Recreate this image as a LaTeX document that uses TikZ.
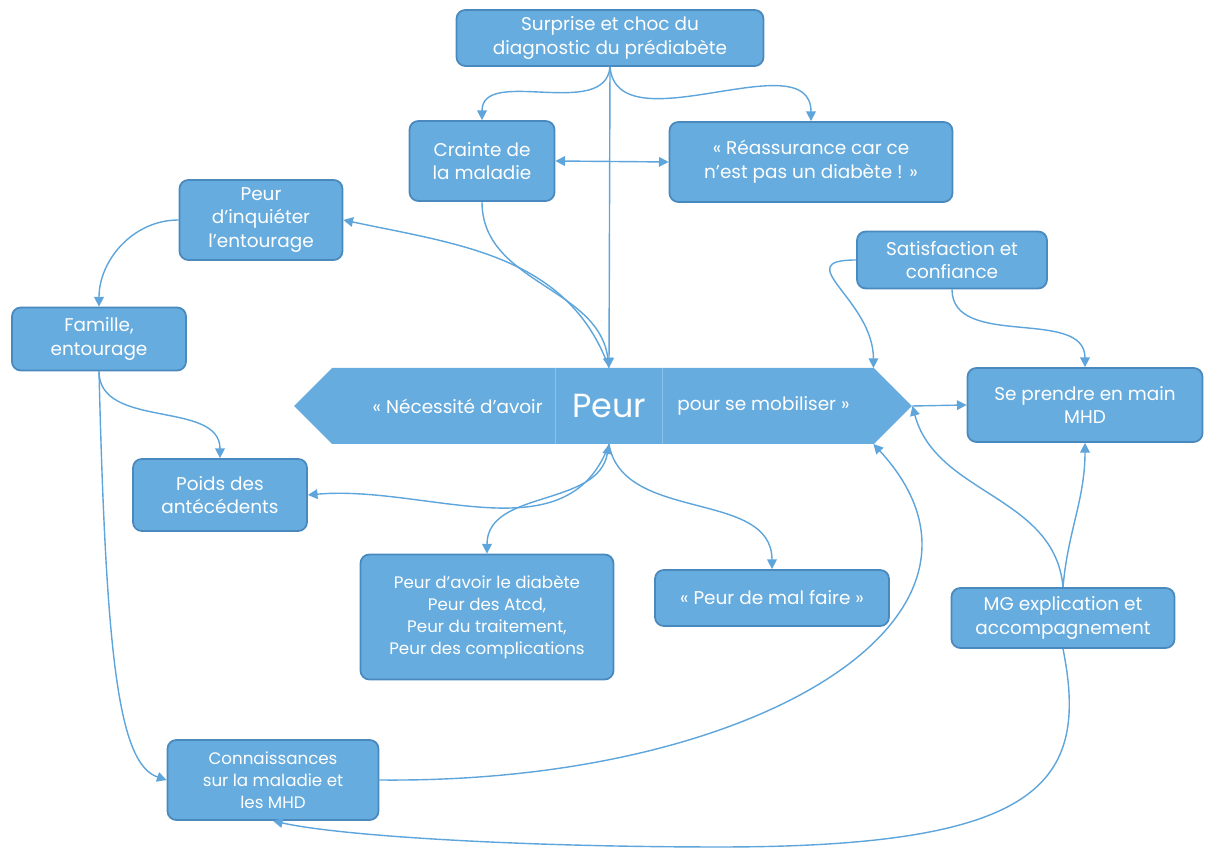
\documentclass[tikz,border=0pt]{standalone}
\usepackage{fontspec}
\setmainfont{Poppins}
\usetikzlibrary{shapes.symbols, arrows.meta, calc}
\definecolor{boxfill}{HTML}{67ACDE}
\definecolor{boxline}{HTML}{4A89BD}
\definecolor{linkcol}{HTML}{5DA5DB}
\definecolor{splitcol}{HTML}{8CC0E6}
\tikzset{
    box/.style={rectangle, rounded corners=5pt, fill=boxfill, draw=boxline, line width=1pt,
                align=center, text=white, inner sep=2pt,
                font=\fontsize{10.5}{13.5}\selectfont},
    narrowbox/.style={box, font=\fontsize{9.5}{12.5}\selectfont},
    banner/.style={signal, signal to=west and east, signal pointer angle=90, fill=boxfill,
                   minimum width=12.36cm, minimum height=1.52cm, inner sep=0pt},
    bantext/.style={text=white, inner sep=0pt, font=\fontsize{10.5}{12}\selectfont},
    split/.style={draw=splitcol, line width=0.6pt},
    link/.style={-{Triangle[length=5.5pt, width=5.5pt]}, line width=0.8pt, draw=linkcol},
    twolink/.style={{Triangle[length=5.5pt, width=5.5pt]}-{Triangle[length=5.5pt, width=5.5pt]},
                    line width=0.8pt, draw=linkcol},
}
\begin{document}
\begin{tikzpicture}[x=0.02cm, y=0.02cm]
  \useasboundingbox (0,0) rectangle (1208,854);

  % central banner
  \node[banner] (banner) at (603,448) {};
  \node[bantext, font=\fontsize{19}{20}\selectfont, minimum width=2.14cm, minimum height=1.52cm] (peur) at (609,448) {Peur};
  \draw[split] (peur.north west) -- (peur.south west);
  \draw[split] (peur.north east) -- (peur.south east);
  \node[bantext, anchor=east] (besoin) at (543,448) {« Nécessité d’avoir};
  \node[bantext, anchor=west] (mobil) at (677,448) {pour se mobiliser »};
  \coordinate (bNE) at ($(banner.east)+(-39,38)$);
  \coordinate (bSE) at ($(banner.east)+(-39,-38)$);

  % boxes
  \node[box, minimum width=6.14cm, minimum height=1.12cm] (choc) at (610,816)
        {Surprise et choc du\\diagnostic du prédiabète};
  \node[box, minimum width=2.9cm, minimum height=1.6cm] (crainte) at (482,693)
        {Crainte de\\la maladie};
  \node[box, minimum width=5.66cm, minimum height=1.6cm] (rassure) at (811,692)
        {« Réassurance car ce\\n’est pas un diabète ! »};
  \node[box, minimum width=3.26cm, minimum height=1.6cm] (inquiet) at (261,634)
        {Peur\\d’inquiéter\\l’entourage};
  \node[box, minimum width=3.48cm, minimum height=1.26cm] (famille) at (99,515)
        {Famille,\\entourage};
  \node[box, minimum width=3.8cm, minimum height=1.14cm] (satisf) at (952,594)
        {Satisfaction et\\confiance};
  \node[box, minimum width=4.7cm, minimum height=1.48cm] (prise) at (1085,449)
        {Se prendre en main\\MHD};
  \node[box, minimum width=3.48cm, minimum height=1.44cm] (poids) at (220,359)
        {Poids des\\antécédents};
  \node[narrowbox, minimum width=5.06cm, minimum height=2.5cm] (peurs) at (487,237)
        {Peur d’avoir le diabète\\Peur des Atcd,\\Peur du traitement,\\Peur des complications};
  \node[box, minimum width=4.68cm, minimum height=1.12cm] (malfaire) at (772,256)
        {« Peur de mal faire »};
  \node[box, minimum width=4.46cm, minimum height=1.2cm] (mg) at (1063,236)
        {MG explication et\\accompagnement};
  \node[narrowbox, minimum width=4.22cm, minimum height=1.6cm] (savoir) at (273,74)
        {Connaissances\\sur la maladie et\\les MHD};

  % links
  \draw[link] (choc.south) to[out=-95, in=90] (crainte.north);
  \draw[link] (choc.south) to[out=-85, in=90] (rassure.north);
  \draw[link] (choc.south) -- (peur.north);
  \draw[twolink] (crainte.east) -- (rassure.west);
  \draw[link] (crainte.south) to[out=-90, in=97] (peur.north);
  \draw[link] (peur.north) to[out=110, in=-12] (inquiet.east);
  \draw[link] (inquiet.west) to[out=180, in=90] (famille.north);
  \draw[link] (famille.south) to[out=-90, in=90] (poids.north);
  \draw[link] (famille.south) .. controls (106,200) and (118,90) .. (savoir.west);
  \draw[link] (peur.south) to[out=-110, in=5] (poids.east);
  \draw[twolink] (peur.south) to[out=-100, in=90] (peurs.north);
  \draw[link] (peur.south) to[out=-80, in=90] (malfaire.north);
  \draw[link] (savoir.east) .. controls (760,70) and (1030,240) .. (bSE);
  \draw[link] (satisf.west) to[out=180, in=90, looseness=1.6] (bNE);
  \draw[link] (satisf.south) to[out=-90, in=90] (prise.north);
  \draw[link] (banner.east) -- (prise.west);
  \draw[link] (mg.north) to[out=95, in=-75] (banner.east);
  \draw[link] (mg.north) to[out=85, in=-90] (prise.south);
  \draw[link] (mg.south) .. controls (1090,70) and (1040,7) .. (720,7)
                         .. controls (520,7) and (340,18) .. (savoir.south);
\end{tikzpicture}
\end{document}
